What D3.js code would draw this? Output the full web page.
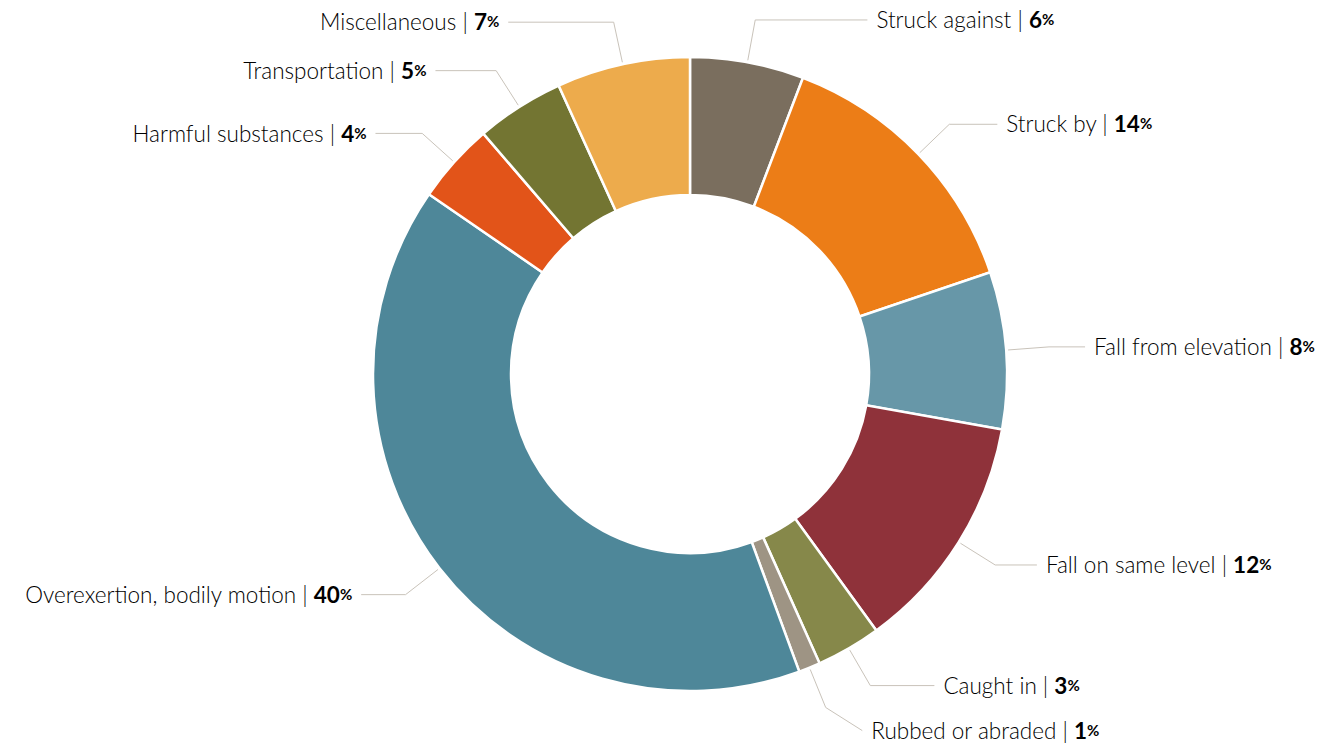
<!DOCTYPE html>
<head>
    <meta charset="utf-8">
    <title>Injury causes donut</title>
    <script src="https://d3js.org/d3.v7.min.js"></script>
    <style>
      body { margin: 0; background: #fff; }
      text { font-family: Lato, "Open Sans", sans-serif; fill: #000; }
    </style>
</head>
<body>

  <div id="my_dataviz"></div>

  <script>

  // data (slice sizes), plus the rounded labels shown
  var categories = ["Struck against", "Struck by", "Fall from elevation", "Fall on same level",
                    "Caught in", "Rubbed or abraded", "Overexertion, bodily motion",
                    "Harmful substances", "Transportation", "Miscellaneous"];
  var values = [5.8, 14.0, 8.0, 12.2, 3.3, 1.1, 40.2, 4.1, 4.5, 6.8];
  var shown = [6, 14, 8, 12, 3, 1, 40, 4, 5, 7];
  var colors = ["#7a6e5e", "#ec7d17", "#6797a8", "#8f323a", "#86884a",
                "#9e9484", "#4e8799", "#e25419", "#737532", "#edab4c"];

  var data = categories.map(function(c, i) {
    return {name: c, value: values[i], shown: shown[i]};
  });

  // dimensions
  var width = 1338, height = 746;
  var cx = 690, cy = 374;
  var outerR = 317, innerR = 179;
  var crookR = 360;   // where the leader line bends
  var labelR = 396;   // circle the label anchors sit on
  var minGap = 45;    // label spacing when they collide

  var svg = d3.select("#my_dataviz")
    .append("svg")
      .attr("width", width)
      .attr("height", height)
    .append("g")
      .attr("transform", "translate(" + cx + "," + cy + ")");

  var pie = d3.pie()
    .sort(null)
    .value(function(d) { return d.value; });

  var arcs = pie(data);

  var arc = d3.arc()
    .innerRadius(innerR)
    .outerRadius(outerR);

  var color = d3.scaleOrdinal()
    .domain(categories)
    .range(colors);

  //slices
  svg.append("g")
    .selectAll("path")
    .data(arcs)
    .enter()
    .append("path")
      .attr("d", arc)
      .attr("fill", function(d) { return color(d.data.name); })
      .attr("stroke", "white")
      .style("stroke-width", "2.5px");

  // label positions
  function polar(r, a) { return [r * Math.sin(a), -r * Math.cos(a)]; }

  arcs.forEach(function(d) {
    var mid = (d.startAngle + d.endAngle) / 2;
    d.mid = mid;
    d.right = mid < Math.PI;
    d.p0 = polar(outerR + 2, mid);
    d.p1 = polar(crookR, mid);
    d.ly = d.p1[1];
  });

  // push colliding labels apart, each side on its own
  [true, false].forEach(function(side) {
    var list = arcs.filter(function(d) { return d.right === side; })
      .sort(function(a, b) { return a.ly - b.ly; });
    for (var i = 1; i < list.length; i++) {
      if (list[i].ly - list[i - 1].ly < minGap) list[i].ly = list[i - 1].ly + minGap;
    }
  });

  arcs.forEach(function(d) {
    var dx = Math.sqrt(Math.max(labelR * labelR - d.ly * d.ly, 0));
    d.lx = d.right ? dx : -dx;
  });

  //leader lines
  svg.append("g")
    .selectAll("path")
    .data(arcs)
    .enter()
    .append("path")
      .attr("d", function(d) {
        return d3.line()([d.p0, d.p1, [d.lx, d.ly]]);
      })
      .attr("fill", "none")
      .attr("stroke", "#c9c3ba")
      .style("stroke-width", "1px");

  //labels
  var label = svg.append("g")
    .selectAll("text")
    .data(arcs)
    .enter()
    .append("text")
      .attr("x", function(d) { return d.right ? d.lx + 9 : d.lx - 9; })
      .attr("y", function(d) { return d.ly; })
      .attr("dy", "0.36em")
      .attr("text-anchor", function(d) { return d.right ? "start" : "end"; })
      .style("font-size", "22.5px")
      .style("font-weight", "300");

  label.append("tspan")
    .text(function(d) { return d.data.name + " | "; });
  label.append("tspan")
    .style("font-weight", "700")
    .text(function(d) { return d.data.shown; });
  label.append("tspan")
    .style("font-weight", "700")
    .style("font-size", "15px")
    .attr("dy", "-3")
    .text("%");

  </script>
</body>
